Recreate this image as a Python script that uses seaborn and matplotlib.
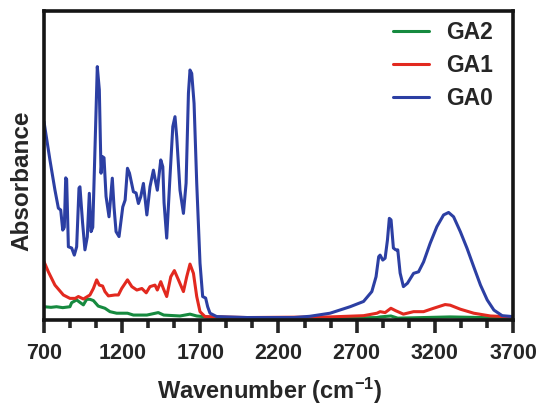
import matplotlib
matplotlib.use("Agg")
import numpy as np
import pandas as pd
import seaborn as sns
import matplotlib.pyplot as plt
import matplotlib.lines as mlines
from matplotlib.ticker import AutoMinorLocator

# values (arbitrary absorbance units, 0..1 = axis height)
ga0_wn = [700, 738, 770, 792, 807, 820, 830, 839, 845, 856, 877, 894, 909, 924, 930, 947, 962, 977,
          990, 1001, 1012, 1026, 1041, 1054, 1065, 1073, 1084, 1097, 1116, 1137, 1148, 1161, 1180,
          1204, 1219, 1234, 1247, 1272, 1289, 1304, 1319, 1336, 1358, 1378, 1400, 1410, 1425, 1447,
          1460, 1468, 1485, 1506, 1524, 1538, 1549, 1570, 1592, 1609, 1624, 1634, 1645, 1660, 1677,
          1698, 1715, 1734, 1747, 1762, 1805, 2000, 2300, 2400, 2530, 2658, 2744, 2797, 2824, 2841,
          2850, 2867, 2882, 2897, 2909, 2920, 2935, 2950, 2963, 2978, 2999, 3025, 3064, 3096, 3128,
          3170, 3213, 3256, 3288, 3320, 3363, 3406, 3449, 3492, 3535, 3578, 3631, 3700]
ga0_abs = [0.642, 0.518, 0.421, 0.362, 0.356, 0.291, 0.300, 0.460, 0.455, 0.237, 0.233, 0.210, 0.237,
           0.427, 0.431, 0.314, 0.227, 0.269, 0.410, 0.286, 0.300, 0.550, 0.820, 0.745, 0.475, 0.529,
           0.525, 0.400, 0.334, 0.459, 0.366, 0.286, 0.270, 0.366, 0.388, 0.491, 0.475, 0.415, 0.411,
           0.377, 0.399, 0.442, 0.340, 0.431, 0.485, 0.458, 0.420, 0.518, 0.496, 0.380, 0.265, 0.464,
           0.626, 0.658, 0.593, 0.420, 0.345, 0.443, 0.734, 0.809, 0.798, 0.701, 0.443, 0.184, 0.076,
           0.071, 0.043, 0.022, 0.011, 0.008, 0.008, 0.012, 0.022, 0.043, 0.060, 0.092, 0.140, 0.205,
           0.210, 0.194, 0.200, 0.259, 0.329, 0.324, 0.233, 0.227, 0.227, 0.152, 0.108, 0.119, 0.151,
           0.156, 0.188, 0.248, 0.302, 0.340, 0.348, 0.334, 0.286, 0.232, 0.172, 0.113, 0.065, 0.032,
           0.014, 0.011]

ga1_wn = [700, 728, 770, 824, 866, 900, 920, 952, 994, 1016, 1037, 1054, 1075, 1090, 1112, 1154, 1176,
          1197, 1234, 1262, 1294, 1326, 1354, 1378, 1410, 1425, 1447, 1465, 1485, 1511, 1534, 1560,
          1592, 1613, 1634, 1656, 1677, 1698, 1730, 2000, 2530, 2744, 2830, 2850, 2882, 2919, 2950,
          2999, 3064, 3128, 3192, 3266, 3298, 3363, 3449, 3556, 3700]
ga1_abs = [0.189, 0.156, 0.113, 0.081, 0.070, 0.070, 0.076, 0.068, 0.081, 0.102, 0.130, 0.113, 0.110,
           0.092, 0.078, 0.081, 0.081, 0.102, 0.130, 0.108, 0.097, 0.102, 0.088, 0.108, 0.113, 0.097,
           0.124, 0.100, 0.076, 0.140, 0.160, 0.130, 0.092, 0.140, 0.181, 0.151, 0.076, 0.027, 0.011,
           0.008, 0.010, 0.014, 0.022, 0.027, 0.024, 0.038, 0.030, 0.019, 0.027, 0.027, 0.038, 0.050,
           0.048, 0.035, 0.022, 0.013, 0.010]

ga2_wn = [700, 745, 780, 820, 866, 877, 909, 930, 952, 973, 994, 1016, 1047, 1090, 1122, 1165, 1234,
          1272, 1358, 1431, 1466, 1570, 1634, 1677, 1741, 2000, 2530, 2830, 2850, 2919, 2963, 3298, 3700]
ga2_abs = [0.043, 0.041, 0.043, 0.040, 0.043, 0.056, 0.065, 0.057, 0.049, 0.067, 0.067, 0.063, 0.045,
           0.038, 0.027, 0.022, 0.022, 0.016, 0.016, 0.024, 0.016, 0.013, 0.019, 0.013, 0.010, 0.006,
           0.005, 0.008, 0.010, 0.013, 0.006, 0.010, 0.006]

series = ["GA2", "GA1", "GA0"]
colors = {"GA2": "#168a3f", "GA1": "#e2291f", "GA0": "#2c3fa3"}
xticks = [700, 1200, 1700, 2200, 2700, 3200, 3700]

df = pd.concat([
    pd.DataFrame({"wn": ga2_wn, "abs": ga2_abs, "sample": "GA2"}),
    pd.DataFrame({"wn": ga1_wn, "abs": ga1_abs, "sample": "GA1"}),
    pd.DataFrame({"wn": ga0_wn, "abs": ga0_abs, "sample": "GA0"}),
], ignore_index=True)

sns.set_style("ticks")
plt.rcParams["font.family"] = ["Liberation Sans", "DejaVu Sans"]
plt.rcParams["font.weight"] = "bold"
plt.rcParams["mathtext.fontset"] = "custom"
plt.rcParams["mathtext.bf"] = "Liberation Sans:bold"
plt.rcParams["mathtext.rm"] = "Liberation Sans:bold"
plt.rcParams["mathtext.default"] = "bf"

fig = plt.figure(figsize=(5.37, 4.04), dpi=100)
ax = fig.add_axes([0.0819, 0.2079, 0.8734, 0.7649])

sns.lineplot(data=df, x="wn", y="abs", hue="sample", hue_order=series, palette=colors,
             estimator=None, sort=False, linewidth=2.2, ax=ax)

ax.set_xlim(700, 3700)
ax.set_ylim(0, 1)
ax.set_xticks(xticks)
ax.xaxis.set_minor_locator(AutoMinorLocator(3))
ax.set_yticks([])
for sp in ax.spines.values():
    sp.set_linewidth(2.6)
    sp.set_color("#151515")
ax.tick_params(axis="x", which="major", length=9, width=2.6, pad=7.5, labelsize=15.5)
ax.tick_params(axis="x", which="minor", length=6, width=2.6)
for lab in ax.get_xticklabels():
    lab.set_fontweight("bold")

ax.set_xlabel("Wavenumber (cm$^{-1}$)", fontsize=17, fontweight="bold")
ax.xaxis.set_label_coords(0.482, -0.18)
ax.set_ylabel("Absorbance", fontsize=17.5, fontweight="bold")
ax.yaxis.set_label_coords(-0.022, 0.45)

leg = ax.legend(loc="upper right", bbox_to_anchor=(0.9768, 0.998), borderaxespad=0,
                frameon=False, handlelength=1.57, labelspacing=0.44, handletextpad=0.74,
                prop={"weight": "bold", "size": 16.5})
for line in leg.get_lines():
    line.set_linewidth(2.2)

# make sure the tick marks really show up; fall back to marker ticks if not
fig.canvas.draw()
img = np.asarray(fig.canvas.buffer_rgba())[:, :, :3].astype(int)
tx, ty = ax.transData.transform((xticks[1], 0))
row = int(round(img.shape[0] - ty))
col = int(round(tx))
if img[row + 4:row + 10, col - 2:col + 3].sum(axis=2).min() > 400:
    trans = ax.get_xaxis_transform()
    ax.plot(xticks, [0] * len(xticks), transform=trans, ls="none", marker=mlines.TICKDOWN,
            ms=9, mew=2.6, color="#151515", clip_on=False)
    minor = list(ax.xaxis.get_minorticklocs())
    ax.plot(minor, [0] * len(minor), transform=trans, ls="none", marker=mlines.TICKDOWN,
            ms=6, mew=2.6, color="#151515", clip_on=False)

fig.savefig("out.png", dpi=100)
